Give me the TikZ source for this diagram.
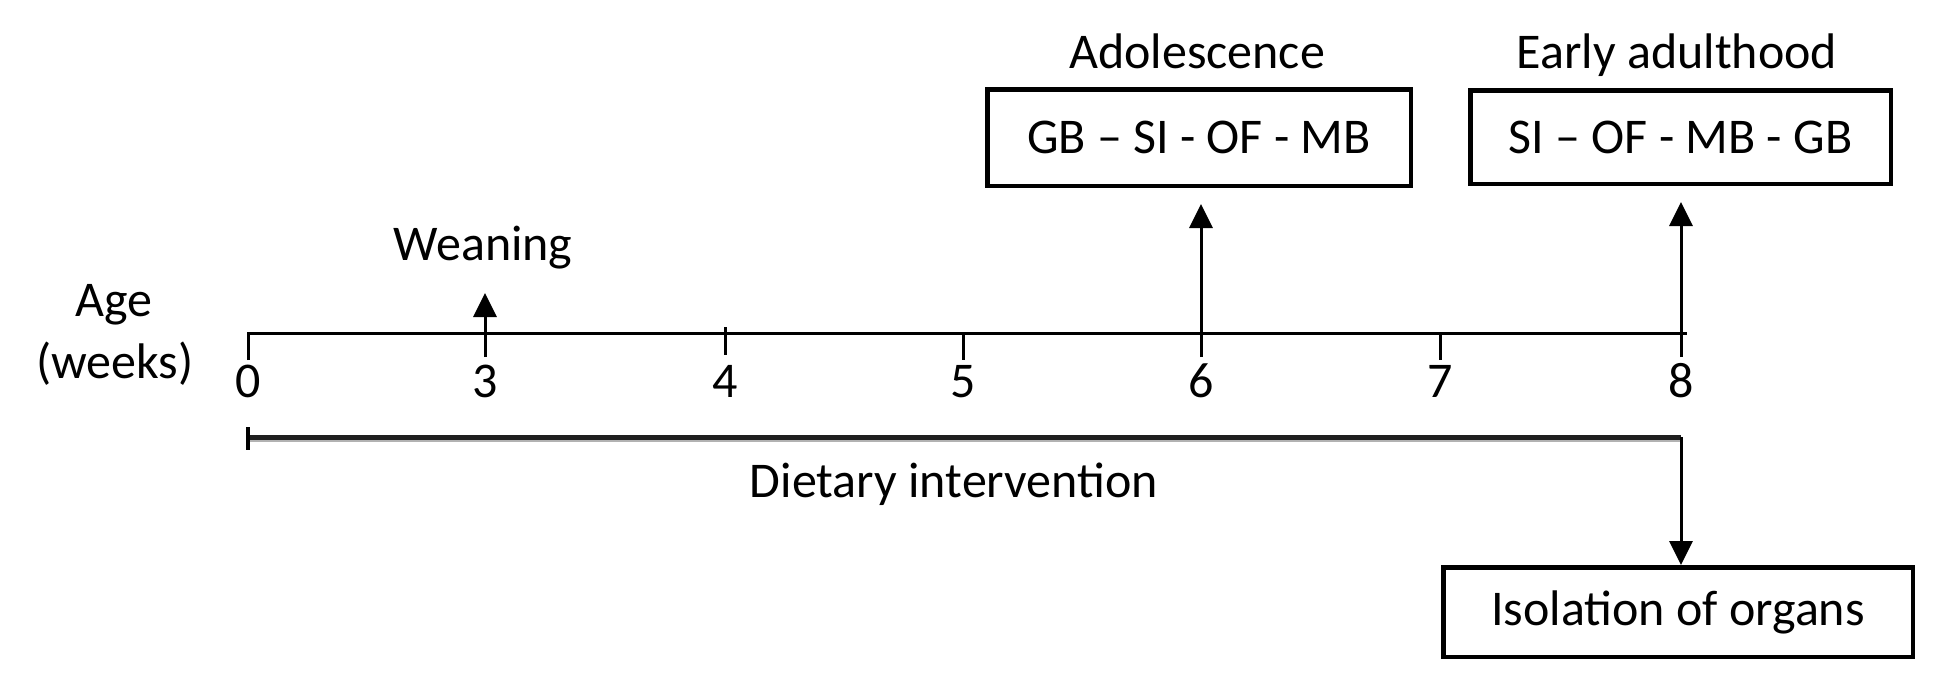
\documentclass[tikz,border=0pt]{standalone}
\usepackage{fontspec}
\setmainfont{Carlito}
\usetikzlibrary{arrows.meta}
\begin{document}
\begin{tikzpicture}[x=0.5pt,y=-0.5pt,
  every node/.style={font=\fontsize{25}{30}\selectfont, inner sep=0pt},
  boxed/.style={draw, line width=2.25pt, inner sep=0pt},
  axisline/.style={line width=1.5pt},
  arr/.style={line width=1.5pt, -{Triangle[length=12pt,width=11.5pt]}},
  lbl/.style={anchor=base}]
\useasboundingbox (0,0) rectangle (1940,693);

% axis points
\coordinate (a0) at (248,333);
\coordinate (a3) at (485,333);
\coordinate (a4) at (725,333);
\coordinate (a5) at (963,333);
\coordinate (a6) at (1201,333);
\coordinate (a7) at (1440,333);
\coordinate (a8) at (1681,333);
\coordinate (aend) at (1687,333);
% tick bottoms
\coordinate (b0) at (248,360);
\coordinate (b3) at (485,357);
\coordinate (b4) at (725,355);
\coordinate (b5) at (963,360);
\coordinate (b6) at (1201,357);
\coordinate (b7) at (1440,360);
\coordinate (b8) at (1681,357);
\coordinate (t4) at (725,327);
\coordinate (w3) at (485,293);

% axis
\draw[axisline] (b0) -- (a0) -- (aend);
\draw[axisline] (t4) -- (b4);
\draw[axisline] (a5) -- (b5);
\draw[axisline] (a7) -- (b7);

% tick labels
\node[lbl] (n0) at (248,397) {0};
\node[lbl] (n3) at (485,397) {3};
\node[lbl] (n4) at (725,397) {4};
\node[lbl] (n5) at (963,397) {5};
\node[lbl] (n6) at (1201,397) {6};
\node[lbl] (n7) at (1440,397) {7};
\node[lbl] (n8) at (1681,397) {8};

% axis title
\node[lbl] (age) at (114,316) {Age};
\node[lbl] (weeks) at (115,378) {(weeks)};

% weaning
\node[lbl] (wean) at (483,260) {Weaning};
\draw[arr] (b3) -- (w3);

% boxes
\node[lbl] (adolab) at (1197,68) {Adolescence};
\node[lbl] (earlab) at (1677,68) {Early adulthood};
\node[boxed, minimum width=211.75pt, minimum height=48.25pt] (ado) at (1199,137.5) {GB – SI - OF - MB};
\node[boxed, minimum width=210.25pt, minimum height=46.75pt] (ear) at (1680.5,137) {SI – OF - MB - GB};
\draw[arr, shorten >=8pt] (b6) -- (ado.south -| b6);
\draw[arr, shorten >=8pt] (b8) -- (ear.south -| b8);

% dietary intervention
\coordinate (d0) at (248,437.25);
\coordinate (d8) at (1681,437.25);
\coordinate (g0) at (250,440.5);
\coordinate (g8) at (1681,440.5);
\coordinate (s0) at (248,427);
\coordinate (s1) at (248,450);
\draw[line width=1pt, black!30] (g0) -- (g8);
\draw[line width=2.25pt, black!88] (d0) -- (d8);
\draw[line width=2pt] (s0) -- (s1);
\node[lbl] (diet) at (954,497) {Dietary intervention};

\node[boxed, minimum width=234.75pt, minimum height=44.75pt] (iso) at (1678,612) {Isolation of organs};
\draw[arr] (d8) -- (iso.north -| d8);
\end{tikzpicture}
\end{document}
